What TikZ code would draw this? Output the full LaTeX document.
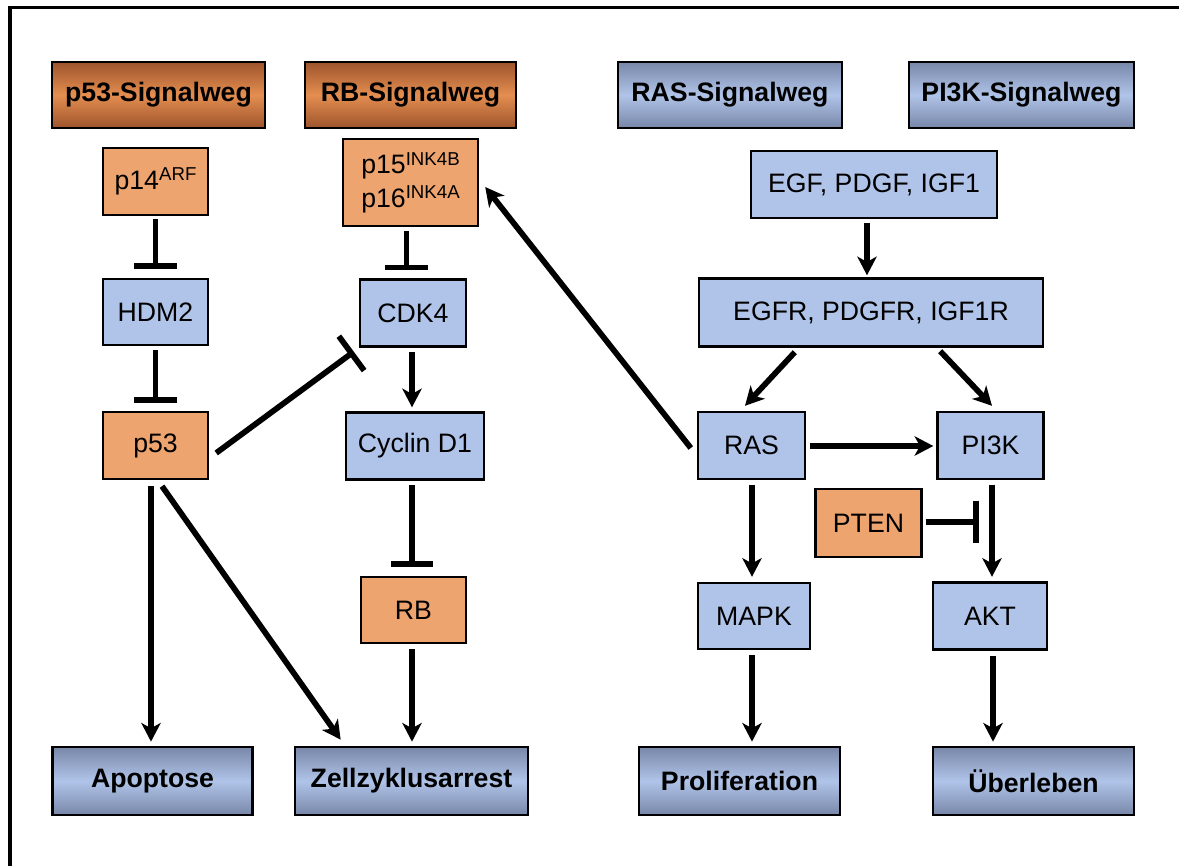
\documentclass[tikz,border=0pt]{standalone}
\usepackage{fontspec}
\setmainfont{Liberation Sans}
\usetikzlibrary{arrows.meta,calc}
\definecolor{cBlue}{RGB}{176,196,233}
\definecolor{cOr}{RGB}{237,164,111}
\definecolor{cHOa}{RGB}{158,84,44}
\definecolor{cHOb}{RGB}{228,142,80}
\definecolor{cHBa}{RGB}{120,135,168}
\definecolor{cHBb}{RGB}{176,196,233}
\newcommand{\sups}[1]{\raisebox{6.5pt}{\fontsize{14}{14}\selectfont #1}}
\tikzset{
  sz/.style 2 args={minimum width=#1*0.75pt, minimum height=#2*0.75pt},
  bx/.style={draw=black, line width=1.8pt, font=\fontsize{20}{25}\selectfont, align=center, inner sep=0pt},
  bluebox/.style={bx, fill=cBlue},
  orbox/.style={bx, fill=cOr},
  hdr/.style={draw=black, line width=2pt, font=\bfseries\fontsize{20}{24}\selectfont, inner sep=0pt},
  hdrO/.style={hdr, top color=cHOa, bottom color=cHOa, middle color=cHOb},
  hdrB/.style={hdr, top color=cHBa, bottom color=cHBa, middle color=cHBb},
  act/.style={line width=4.3pt, -{Stealth[length=14pt,width=14.5pt,inset=4pt]}},
  inh/.style={line width=4.3pt, -{Bar[width=32pt]}},
}
\begin{document}
\begin{tikzpicture}[x=0.75pt,y=-0.75pt]
\useasboundingbox (0,0) rectangle (1179,866);
\fill[white] (0,0) rectangle (1179,866);
% frame
\draw[line width=2.3pt] (10,870) -- (10,7.5) -- (1185,7.5);

% headers
\node[hdrO, sz={213}{66}] (h53) at (158.5,95) {p53-Signalweg};
\node[hdrO, sz={211}{66}] (hrb) at (410.5,95) {RB-Signalweg};
\node[hdrB, sz={224}{66}] (hras) at (730,95) {RAS-Signalweg};
\node[hdrB, sz={225}{66}] (hpi) at (1021.5,95) {PI3K-Signalweg};

% boxes
\node[orbox, sz={105}{67}] (p14) at (155.5,181.5) {p14\sups{ARF}};
\node[orbox, sz={135}{87}] (p15) at (410.5,182.5) {p15\sups{INK4B}\\p16\sups{INK4A}};
\node[bluebox, sz={246}{67}] (egf) at (874,184.5) {EGF, PDGF, IGF1};
\node[bluebox, sz={105}{66}] (hdm2) at (155.5,312) {HDM2};
\node[bluebox, sz={106}{67}] (cdk4) at (413,313) {CDK4};
\node[bluebox, sz={344}{68}] (egfr) at (871,312.5) {EGFR, PDGFR, IGF1R};
\node[orbox, sz={105}{67}] (p53) at (155.5,445.5) {p53};
\node[bluebox, sz={138}{67}] (cyc) at (415,446) {Cyclin D1};
\node[bluebox, sz={107}{67}] (ras) at (751.5,445.5) {RAS};
\node[bluebox, sz={106}{67}] (pi3k) at (990.5,445.5) {PI3K};
\node[orbox, sz={106}{68}] (pten) at (868.5,523) {PTEN};
\node[orbox, sz={105}{66}] (rb) at (413.5,610) {RB};
\node[bluebox, sz={112}{66}] (mapk) at (754,616) {MAPK};
\node[bluebox, sz={114}{67}] (akt) at (990,616) {AKT};

% outcomes
\node[hdrB, sz={200}{68}] (apo) at (152.5,781) {Apoptose};
\node[hdrB, sz={233}{68}] (zell) at (411.5,781) {Zellzyklusarrest};
\node[hdrB, sz={201}{68}] (prol) at (739.5,781) {Proliferation};
\node[hdrB, sz={201}{68}] (ueb) at (1033.5,781) {Überleben};

% p53 pathway
\draw[inh] ($(p14.south)+(0,3)$) -- ($(hdm2.north)+(0,-9)$);
\draw[inh] ($(hdm2.south)+(0,4)$) -- ($(p53.north)+(0,-8)$);
\draw[inh] ($(p53.east)+(7,7.5)$) -- ($(cdk4.south west)+(-5,4)$);
\draw[act] ($(p53.south)+(-4.5,6)$) -- ($(apo.north)+(-1.5,-4)$);
\draw[act] ($(p53.south)+(6.5,6)$) -- ($(zell.north west)+(47,-6)$);

% RB pathway
\draw[inh] ($(p15.south)+(-4,4)$) -- ($(cdk4.north)+(-6.5,-8)$);
\draw[act] ($(cdk4.south)+(-1,4.5)$) -- ($(cyc.north)+(-3,-4)$);
\draw[inh] ($(cyc.south)+(-3,4.5)$) -- ($(rb.north)+(-1.5,-9)$);
\draw[act] ($(rb.south)+(-1.5,5)$) -- ($(zell.north)+(0.5,-4)$);

% RAS / PI3K
\draw[act] ($(ras.west)+(-6,2.5)$) -- ($(p15.east)+(6,4.5)$);
\draw[act] ($(egf.south)+(-7,4)$) -- ($(egfr.north)+(-4,-2)$);
\draw[act] ($(egfr.south west)+(97,4.5)$) -- ($(ras.north)+(-6.5,-5)$);
\draw[act] ($(egfr.south east)+(-104,3.5)$) -- ($(pi3k.north)+(1.5,-5)$);
\draw[act] ($(ras.east)+(4,0.5)$) -- ($(pi3k.west)+(-3,0.5)$);
\draw[act] ($(ras.south)+(0.5,5)$) -- ($(mapk.north)+(-2,-5)$);
\draw[act] ($(pi3k.south)+(1.5,4.5)$) -- ($(akt.north)+(2,-4.5)$);
\draw[inh] ($(pten.east)+(3,-1)$) -- ($(pten.east -| akt.north)+(-11,-1)$);
\draw[act] ($(mapk.south)+(-2,5)$) -- ($(prol.north)+(12.5,-4)$);
\draw[act] ($(akt.south)+(3,5)$) -- ($(ueb.north)+(-40.5,-4)$);
\end{tikzpicture}
\end{document}
